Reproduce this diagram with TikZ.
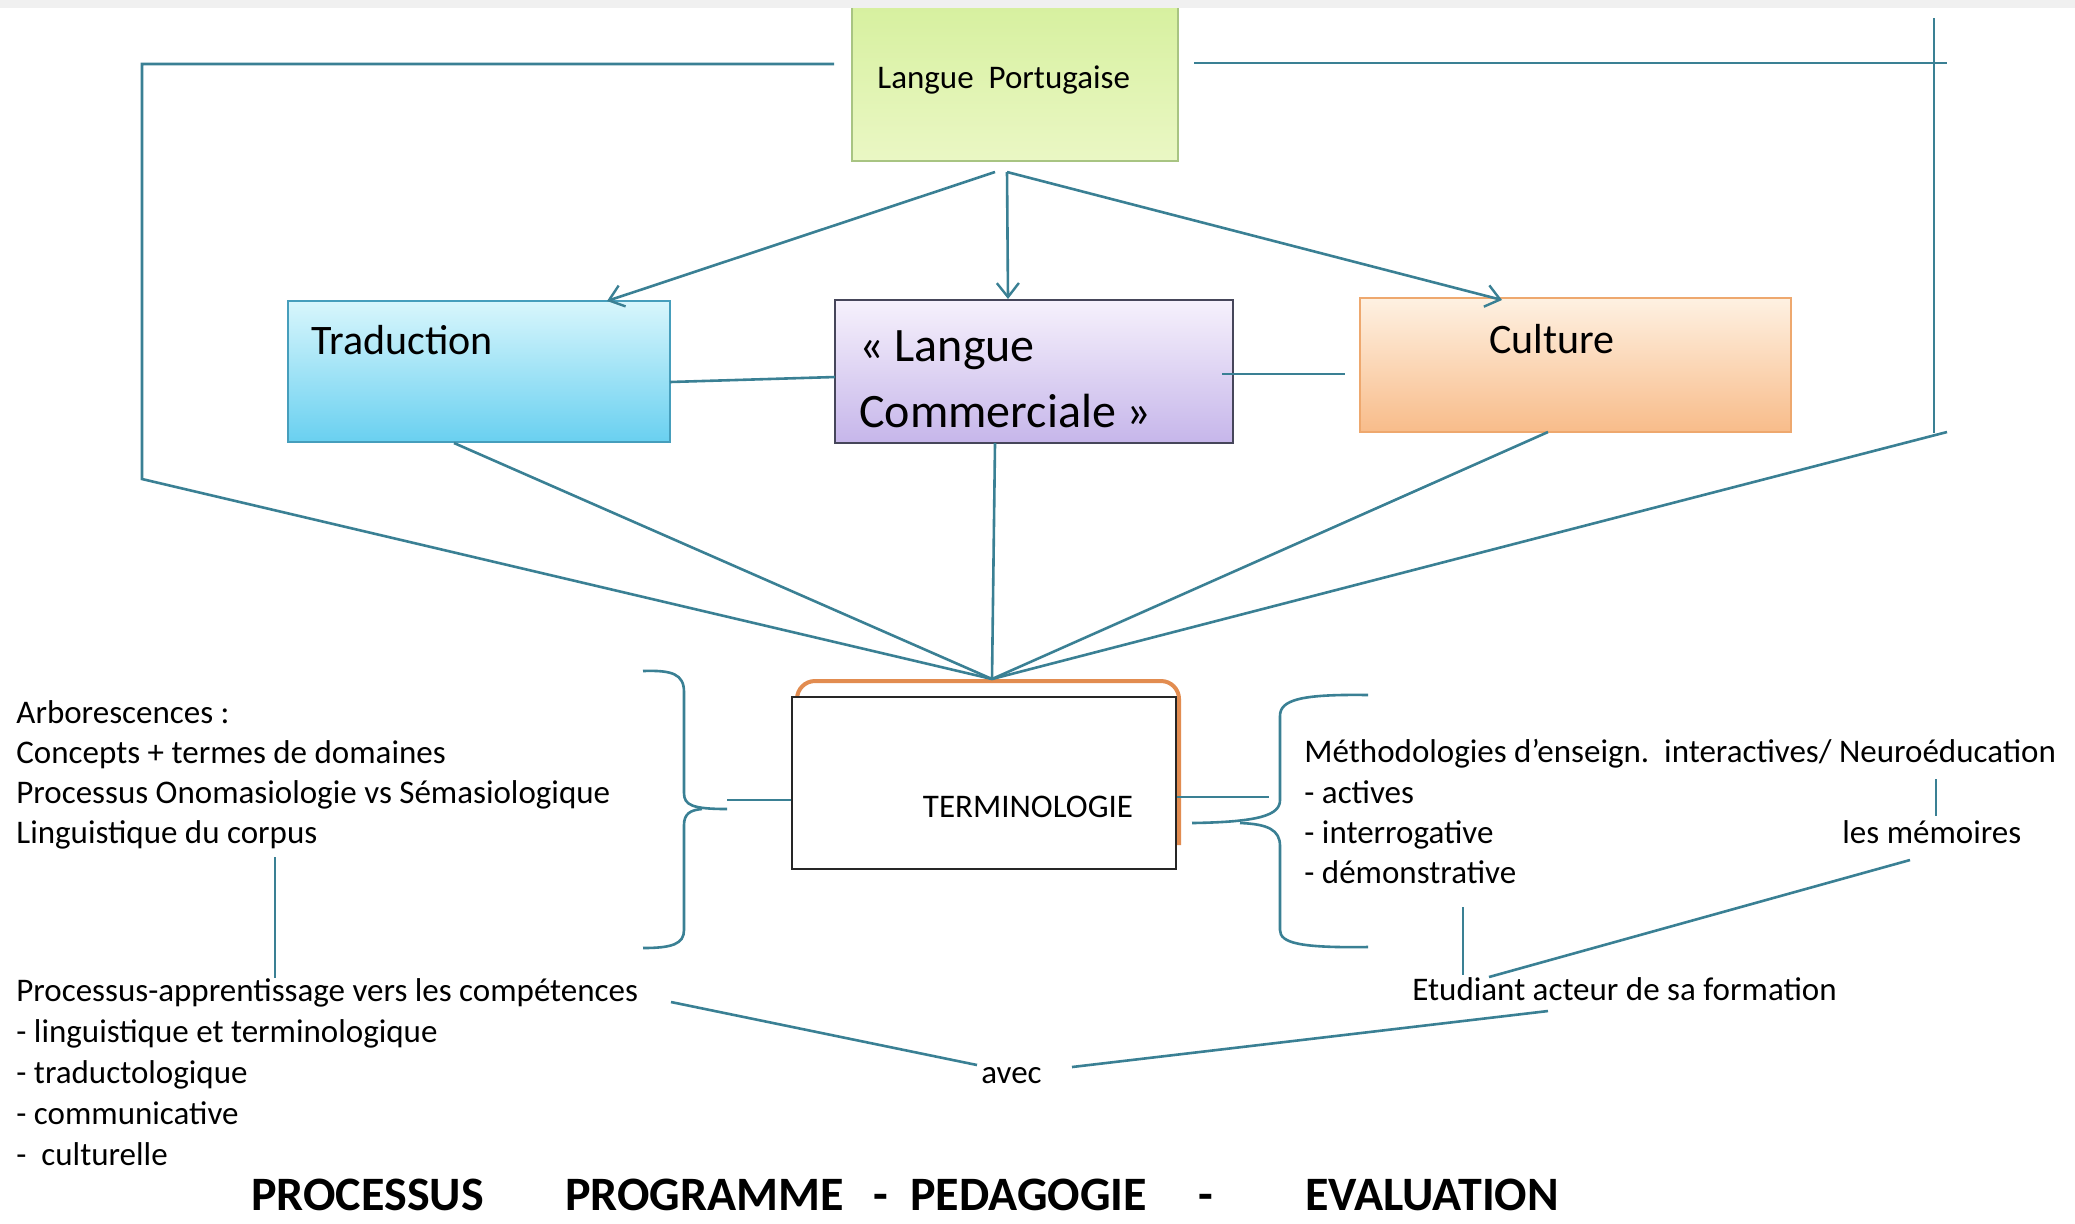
\documentclass[tikz,border=0pt]{standalone}
\usepackage{fontspec}
\setmainfont{Carlito}
\usetikzlibrary{arrows.meta}
\definecolor{ln}{RGB}{58,128,148}
\definecolor{lpT}{RGB}{214,240,158}
\definecolor{lpB}{RGB}{234,247,196}
\definecolor{lpD}{RGB}{168,196,130}
\definecolor{trT}{RGB}{216,246,252}
\definecolor{trB}{RGB}{105,208,240}
\definecolor{trD}{RGB}{70,158,188}
\definecolor{lcT}{RGB}{246,241,252}
\definecolor{lcB}{RGB}{198,182,234}
\definecolor{lcD}{RGB}{70,70,90}
\definecolor{cuT}{RGB}{254,241,226}
\definecolor{cuB}{RGB}{248,188,138}
\definecolor{cuD}{RGB}{238,168,110}
\definecolor{orl}{RGB}{226,140,80}
\tikzset{
  conn/.style={draw=ln, line width=1.3pt},
  arr/.style={conn, -{Straight Barb[length=7pt,width=11pt,line width=1.2pt]}},
  boxn/.style={draw, line width=1.1pt, inner sep=0},
  txt/.style={font=\fontsize{16.5}{20}\selectfont, anchor=base west, inner sep=0},
  boxtxt/.style={font=\fontsize{21}{26}\selectfont, anchor=base west, inner sep=0},
  bigtxt/.style={font=\fontsize{24}{30}\selectfont, anchor=base west, inner sep=0},
  titletxt/.style={font=\fontsize{24}{30}\selectfont\bfseries, anchor=base west, inner sep=0}
}
\begin{document}
\begin{tikzpicture}[x=0.5pt,y=-0.5pt]
\useasboundingbox (0,0) rectangle (2075,1223);
\fill[white] (0,0) rectangle (2075,1223);
% boxes
\node[boxn, draw=lpD, top color=lpT, bottom color=lpB, minimum width=163pt, minimum height=80.5pt] (lp) at (1015,80.5) {};
\node[boxn, draw=trD, top color=trT, bottom color=trB, minimum width=191pt, minimum height=70.5pt] (trad) at (479,371.5) {};
\node[boxn, draw=lcD, top color=lcT, bottom color=lcB, minimum width=199pt, minimum height=71.5pt] (lc) at (1034,371.5) {};
\node[boxn, draw=cuD, top color=cuT, bottom color=cuB, minimum width=215.5pt, minimum height=67pt] (cult) at (1575.5,365) {};
\fill[black!6] (0,0) rectangle (2075,8);
% terminology
\draw[orl, line width=2pt, rounded corners=9pt] (797,845) -- (797,681) -- (1179,681) -- (1179,845);
\node[boxn, draw=black!85, fill=white, minimum width=192pt, minimum height=86pt] (term) at (984,783) {};
% box texts
\node[txt] (lpt) at (877,88) {Langue\ \ Portugaise};
\node[boxtxt] (trt) at (311,354) {Traduction};
\node[bigtxt] (lca) at (859,361) {« Langue};
\node[bigtxt] (lcb) at (859,427) {Commerciale »};
\node[boxtxt, anchor=base] (cut) at (1552,353) {Culture};
\node[txt, anchor=base] (tt) at (1028,817) {TERMINOLOGIE};
% coordinates
\coordinate (T) at (992,679);
\coordinate (lpL) at (995,172);
\coordinate (lpM) at (1007,172);
\coordinate (trA) at (607,301);
\coordinate (lcA) at (1008,299);
\coordinate (cuA) at (1502,300);
\coordinate (fl1) at (834,64);
\coordinate (fl2) at (142,64);
\coordinate (fl3) at (142,479);
\coordinate (fr1) at (1194,63);
\coordinate (fr2) at (1947,63);
\coordinate (fr3) at (1934,18);
\coordinate (fr4) at (1934,433);
\coordinate (fr5) at (1947,432);
\coordinate (trS) at (454,443);
\coordinate (lcS) at (995,443);
\coordinate (cuS) at (1548,432);
% arrows
\draw[arr] (lpL) -- (trA);
\draw[arr] (lpM) -- (lcA);
\draw[arr] (lpM) -- (cuA);
% frame lines
\draw[conn] (fl1) -- (fl2) -- (fl3) -- (T);
\draw[conn] (fr1) -- (fr2);
\draw[conn] (fr3) -- (fr4);
\draw[conn] (fr5) -- (T);
\draw[conn] (trS) -- (T);
\draw[conn] (lcS) -- (T);
\draw[conn] (cuS) -- (T);
% horizontal links
\coordinate (trE) at (670,382);
\coordinate (lcW) at (835,377);
\coordinate (lcE) at (1222,374);
\coordinate (cuW) at (1345,374);
\draw[conn] (trE) -- (lcW);
\draw[conn] (lcE) -- (cuW);
% left brace
\draw[conn] (643,671) .. controls (672,670) and (684,674) .. (684,692) -- (684,793) .. controls (684,805) and (692,809) .. (727,809);
\draw[conn] (702,809) .. controls (690,810) and (684,814) .. (684,825) -- (684,930) .. controls (684,944) and (672,948) .. (643,948);
\coordinate (lbr) at (727,800);
\draw[conn] (lbr) -- (term.west |- lbr);
% right brace
\draw[conn] (1368,695) .. controls (1300,694) and (1280,700) .. (1280,716) -- (1280,800) .. controls (1280,815) and (1260,822) .. (1192,823);
\draw[conn] (1240,823) .. controls (1268,824) and (1280,830) .. (1280,846) -- (1280,930) .. controls (1280,943) and (1300,948) .. (1368,947);
\coordinate (rbr) at (1269,797);
\draw[conn] (term.east |- rbr) -- (rbr);
% left texts
\node[txt] (a1) at (16,723) {Arborescences :};
\node[txt] (a2) at (16,763) {Concepts + termes de domaines};
\node[txt] (a3) at (16,803) {Processus Onomasiologie vs Sémasiologique};
\node[txt] (a4) at (16,843) {Linguistique du corpus};
\node[txt] (p1) at (16,1001) {Processus-apprentissage vers les compétences};
\node[txt] (p2) at (16,1042) {- linguistique et terminologique};
\node[txt] (p3) at (16,1083) {- traductologique};
\node[txt] (p4) at (16,1124) {- communicative};
\node[txt] (p5) at (16,1165) {-\ \ culturelle};
\coordinate (a4b) at (275,857);
\draw[conn] (a4b) -- (a4b |- p1.north);
% right texts
\node[txt] (m1) at (1304,762) {Méthodologies d’enseign.\ \ interactives/ Neuroéducation};
\node[txt] (m2) at (1304,803) {- actives};
\node[txt] (m3) at (1304,843) {- interrogative};
\node[txt] (m4) at (1304,883) {- démonstrative};
\node[txt] (mem) at (1842,843) {les mémoires};
\node[txt] (etu) at (1412,1000) {Etudiant acteur de sa formation};
\node[txt] (avec) at (981,1083) {avec};
\coordinate (n1) at (1936,779);
\coordinate (n2) at (1936,816);
\draw[conn] (n1) -- (n2);
\coordinate (d1) at (1463,907);
\coordinate (d2) at (1463,975);
\draw[conn] (d1) -- (d2);
\coordinate (me1) at (1910,860);
\coordinate (et1) at (1489,977);
\draw[conn] (me1) -- (et1);
\coordinate (pr1) at (671,1002);
\coordinate (av1) at (977,1065);
\coordinate (av2) at (1072,1067);
\coordinate (et2) at (1548,1011);
\draw[conn] (pr1) -- (av1);
\draw[conn] (av2) -- (et2);
% title
\node[titletxt] (t1) at (251,1210) {PROCESSUS};
\node[titletxt] (t2) at (565,1210) {PROGRAMME};
\node[titletxt] (t3) at (873,1210) {-};
\node[titletxt] (t4) at (910,1210) {PEDAGOGIE};
\node[titletxt] (t5) at (1198,1210) {-};
\node[titletxt] (t6) at (1305,1210) {EVALUATION};
\end{tikzpicture}
\end{document}
